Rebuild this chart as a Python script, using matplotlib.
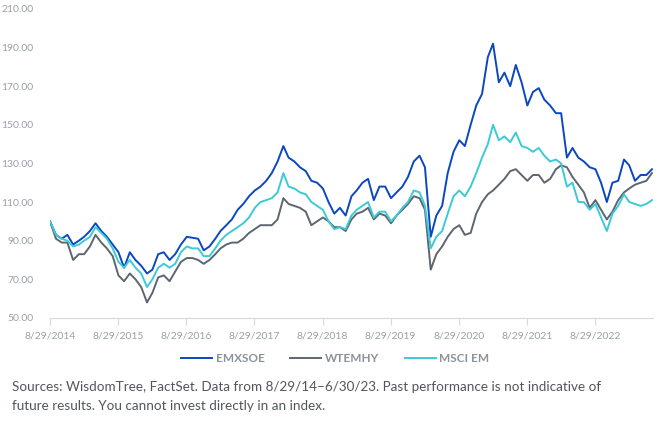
import matplotlib
matplotlib.use("Agg")
import matplotlib.pyplot as plt
import pandas as pd

# month-end values, 8/29/2014 - 6/30/2023 (indexed, start = 100)
emxsoe = [100, 93, 91, 93, 88, 90, 92, 95, 99, 95, 92, 88, 84, 76, 84, 80, 77, 73, 75,
          83, 84, 80, 83, 88, 92, 91.5, 91, 85, 87, 91, 95, 98, 101, 106, 109, 113,
          116, 118, 121, 125, 131, 139, 133, 131, 128, 126, 121, 120, 117, 110, 104,
          107, 103, 113, 116, 120, 122, 111, 118, 118, 112, 115, 118, 123, 131, 134,
          128, 92, 103, 108, 125, 136, 142, 139, 150, 160, 166, 185, 192, 172, 177,
          170, 181, 172, 160, 167, 169, 163, 160, 156, 156, 133, 138, 133, 131, 128,
          127, 120, 110, 120, 121, 132, 129, 121, 124, 124, 127]
wtemhy = [100, 91, 89, 89, 80, 83, 83, 87, 93, 89, 86, 82, 72, 69, 73, 70, 66, 58, 63,
          71, 72, 69, 74, 79, 81, 81, 80, 78, 80, 83, 86, 88, 89, 89, 91, 94,
          96, 98, 98, 98, 101, 112, 109, 108, 107, 105, 98, 100, 102, 100, 97,
          97, 95, 101, 104, 105, 107, 101, 104, 103, 99, 103, 106, 109, 113, 112,
          106, 75, 83, 87, 92, 96, 98, 93, 94, 104, 110, 114, 116, 119, 122,
          126, 127, 124, 121, 124, 124, 120, 122, 127, 129, 128, 123, 119, 115, 107,
          111, 106, 101, 105, 111, 115, 117, 119, 120, 121, 125]
msci_em = [100, 93, 91, 90, 87, 88, 90, 92, 97, 94, 91, 86, 79, 76, 80, 76, 73, 66, 70,
           76, 78, 76, 78, 84, 87, 86, 86, 82, 82, 86, 90, 93, 95, 97, 99, 102,
           107, 110, 111, 112, 115, 125, 118, 117, 115, 114, 110, 108, 106, 100, 96,
           97, 96, 103, 106, 108, 110, 102, 105, 105, 100, 103, 107, 110, 116, 115,
           108, 86, 92, 95, 104, 113, 116, 113, 118, 125, 133, 140, 150, 142, 144,
           141, 146, 139, 138, 136, 138, 134, 131, 132, 130, 118, 120, 110, 110, 106,
           109, 102, 95, 104, 108, 114, 110, 109, 108, 109, 111]

series_names = ["EMXSOE", "WTEMHY", "MSCI EM"]
colors = ["#0b47c1", "#5d6670", "#3ccad4"]

dates = pd.date_range("2014-08-31", periods=len(emxsoe), freq="ME")
dates = dates.insert(0, pd.Timestamp("2014-08-29")).delete(1)

tick_dates = [pd.Timestamp(f"{y}-08-29") for y in range(2014, 2023)]
tick_labels = [f"8/29/{y}" for y in range(2014, 2023)]
y_ticks = list(range(50, 211, 20))

fig = plt.figure(figsize=(6.64, 4.25), dpi=100)
ax = fig.add_axes([0.0753, 0.252, 0.908, 0.727])

for vals, name, c in zip([emxsoe, wtemhy, msci_em], series_names, colors):
    ax.plot(dates, vals, color=c, lw=1.4, label=name)

ax.set_ylim(50, 210)
ax.set_yticks(y_ticks)
ax.set_yticklabels([f"{v:.2f}" for v in y_ticks], family="Lato")
ax.set_xlim(pd.Timestamp("2014-08-29"), pd.Timestamp("2023-07-05"))
ax.set_xticks(tick_dates)
ax.set_xticklabels(tick_labels, family="Lato")

for s in ["top", "right", "left"]:
    ax.spines[s].set_visible(False)
ax.spines["bottom"].set_color("#d9d9d9")
ax.tick_params(axis="y", length=0, pad=12, labelsize=7.5, labelcolor="#9aa0a8")
ax.tick_params(axis="x", length=5, width=0.8, color="#d9d9d9", pad=5,
               labelsize=7.5, labelcolor="#9aa0a8")

leg = fig.legend(loc="center", bbox_to_anchor=(0.505, 0.157), ncol=3, frameon=False,
                 prop={"family": "Lato", "size": 8.5, "weight": "bold"},
                 handlelength=2.6, columnspacing=2.2, handletextpad=0.3)
for t in leg.get_texts():
    t.set_color("#8a929b")

fig.text(0.018, 0.068,
         "Sources: WisdomTree, FactSet. Data from 8/29/14\u20136/30/23. Past performance is not indicative of\n"
         "future results. You cannot invest directly in an index.",
         fontsize=9.7, color="#50565c", family="Lato", linespacing=1.7, va="center")

fig.savefig("out.png", dpi=100)
